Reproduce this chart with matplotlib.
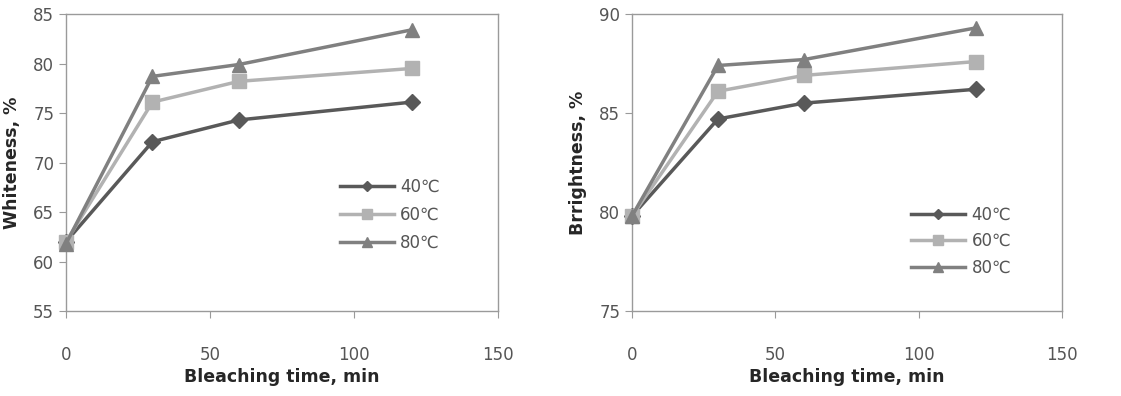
import matplotlib
matplotlib.use("Agg")
import matplotlib.pyplot as plt

# bleaching time, min
time = [0, 30, 60, 120]

# whiteness, %
white_40 = [62.0, 72.1, 74.3, 76.1]
white_60 = [62.0, 76.1, 78.2, 79.5]
white_80 = [61.8, 78.7, 79.9, 83.4]

# brightness, %
bright_40 = [79.8, 84.7, 85.5, 86.2]
bright_60 = [79.8, 86.1, 86.9, 87.6]
bright_80 = [79.8, 87.4, 87.7, 89.3]

labels = ["40\u2103", "60\u2103", "80\u2103"]
colors = ["#595959", "#b2b2b2", "#808080"]
markers = ["D", "s", "^"]
msizes = [8, 10, 10]

plt.rcParams["font.family"] = ["DejaVu Sans"]

fig = plt.figure(figsize=(11.21, 3.96), dpi=100)
ax1 = fig.add_axes([0.0589, 0.2146, 0.3854, 0.75])
ax2 = fig.add_axes([0.5638, 0.2146, 0.3836, 0.75])


def draw(ax, series, ylim, yticks, ylabel, leg_xy, lspace):
    for ys, lab, c, m, ms in zip(series, labels, colors, markers, msizes):
        ax.plot(time, ys, color=c, marker=m, markersize=ms, linewidth=2.5,
                label=lab, clip_on=False, zorder=3)
    ax.set_xlim(0, 150)
    ax.set_ylim(*ylim)
    ax.set_xticks([0, 50, 100, 150])
    ax.set_yticks(yticks)
    for s in ax.spines.values():
        s.set_color("#9a9a9a")
        s.set_linewidth(1)
    ax.tick_params(axis="both", colors="#9a9a9a", labelcolor="#555555",
                   labelsize=12, length=5, direction="out")
    ax.tick_params(axis="x", pad=20)
    ax.set_xlabel("Bleaching time, min", fontsize=12.5, fontweight="bold",
                  color="#262626", labelpad=3)
    ax.set_ylabel(ylabel, fontsize=12.5, fontweight="bold", color="#262626",
                  labelpad=9)
    leg = ax.legend(loc="upper left", bbox_to_anchor=leg_xy, frameon=False,
                    markerscale=0.65, handlelength=3.2, handletextpad=0.4,
                    labelspacing=lspace, fontsize=12)
    for t in leg.get_texts():
        t.set_color("#555555")


draw(ax1, [white_40, white_60, white_80], (55, 85), range(55, 86, 5),
     "Whiteness, %", (0.6, 0.5), 0.6)
draw(ax2, [bright_40, bright_60, bright_80], (75, 90), range(75, 91, 5),
     "Brrightness, %", (0.615, 0.405), 0.5)

fig.savefig("out.png", dpi=100)
